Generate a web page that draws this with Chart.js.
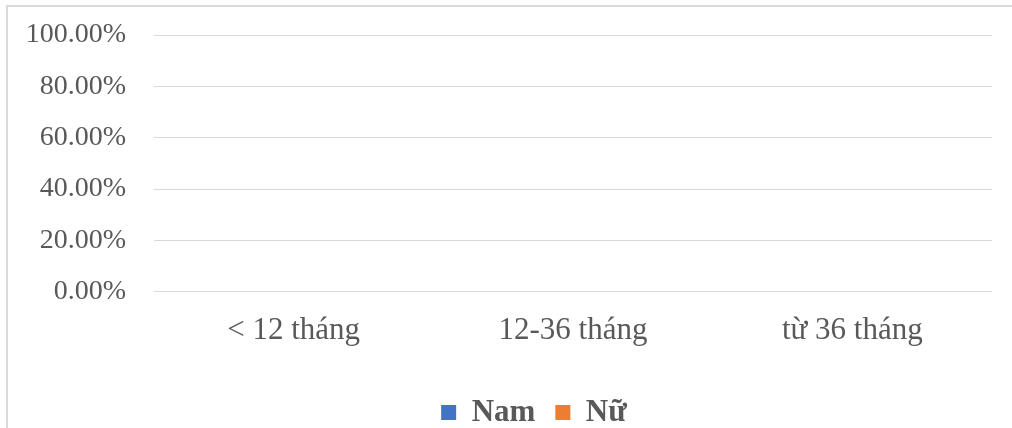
<!DOCTYPE html>
<html>
<head>
<meta charset="utf-8">
<script src="https://cdn.jsdelivr.net/npm/chart.js@4"></script>
<style>
  html, body { margin: 0; padding: 0; background: #fff; overflow: hidden; }
  #frame { position: absolute; left: 6px; top: 5px; width: 1010px; height: 440px; border: 2px solid #d9d9d9; box-sizing: border-box; }
  #wrap { position: absolute; left: 0; top: 0; width: 1012px; height: 428px; }
</style>
</head>
<body>
<div id="frame"></div>
<div id="wrap"><canvas id="c" width="1012" height="428"></canvas></div>
<script>
const categories = ["< 12 tháng", "12-36 tháng", "từ 36 tháng"];
const namValues = [0, 0, 0];
const nuValues = [0, 0, 0];
const yTicks = [0, 0.2, 0.4, 0.6, 0.8, 1.0];

const legendShift = {
  id: 'legendShift',
  afterLayout(chart) {
    const l = chart.legend;
    if (l) { l.left += 25; l.right += 25; l.top += 16; l.bottom += 16; }
  }
};

const ctx = document.getElementById('c').getContext('2d');
new Chart(ctx, {
  type: 'bar',
  data: {
    labels: categories,
    datasets: [
      { label: 'Nam', data: namValues, backgroundColor: '#4472C4', borderWidth: 0 },
      { label: 'Nữ', data: nuValues, backgroundColor: '#ED7D31', borderWidth: 0 }
    ]
  },
  plugins: [legendShift],
  options: {
    responsive: false,
    animation: false,
    layout: { padding: { left: 26, right: 20, top: 35, bottom: 6 } },
    plugins: {
      legend: {
        position: 'bottom',
        labels: {
          font: { family: 'Liberation Serif', size: 31, weight: 'bold' },
          color: '#595959',
          boxWidth: 15,
          boxHeight: 15,
          padding: 20
        }
      },
      tooltip: { enabled: false }
    },
    scales: {
      x: {
        grid: { display: false },
        border: { display: false },
        ticks: {
          font: { family: 'Liberation Serif', size: 31 },
          color: '#595959',
          padding: 12
        }
      },
      y: {
        min: 0,
        max: 1,
        afterBuildTicks: (axis) => { axis.ticks = yTicks.map(v => ({ value: v })); },
        afterFit: (axis) => { axis.width = 128; },
        grid: { color: '#d9d9d9', lineWidth: 1, drawTicks: true, tickLength: 20, tickColor: 'rgba(0,0,0,0)' },
        border: { display: false },
        ticks: {
          font: { family: 'Liberation Serif', size: 28 },
          color: '#595959',
          padding: 8,
          callback: (v) => (v * 100).toFixed(2) + '%'
        }
      }
    }
  }
});
</script>
</body>
</html>
